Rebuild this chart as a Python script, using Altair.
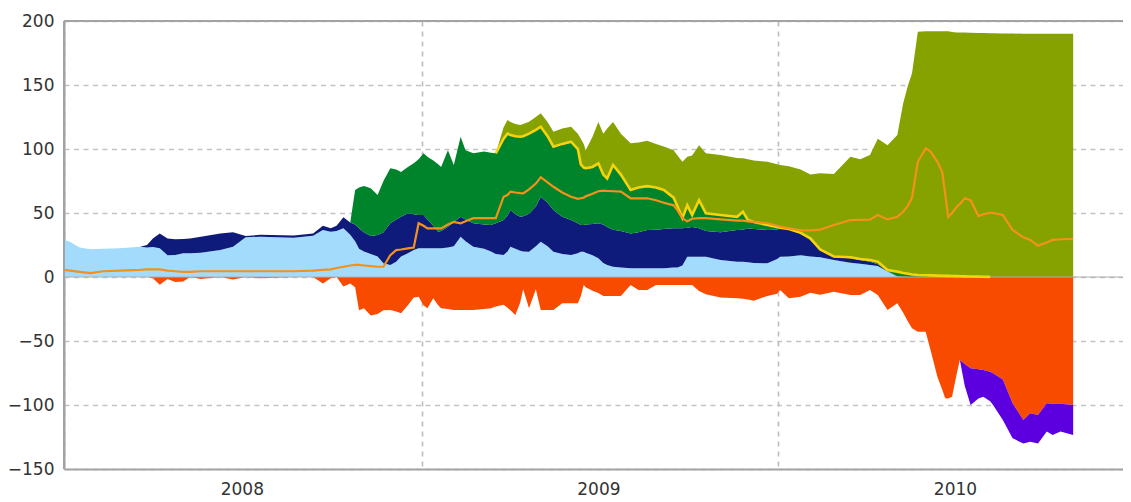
import altair as alt
import pandas as pd

# ---------------- data ----------------
dates = [
    "2008-01-01", "2008-01-07", "2008-01-17", "2008-01-28", "2008-02-10", "2008-02-27", "2008-03-19", "2008-03-26", "2008-04-01", "2008-04-08",
    "2008-04-16", "2008-04-24", "2008-05-02", "2008-05-09", "2008-05-20", "2008-06-09", "2008-06-22", "2008-07-05", "2008-07-20", "2008-08-23",
    "2008-09-12", "2008-09-22", "2008-09-30", "2008-10-06", "2008-10-13", "2008-10-20", "2008-10-25", "2008-10-29", "2008-11-03", "2008-11-10",
    "2008-11-17", "2008-11-23", "2008-11-30", "2008-12-06", "2008-12-11", "2008-12-18", "2008-12-24", "2008-12-29",
    "2009-01-03", "2009-01-07", "2009-01-13", "2009-01-18", "2009-01-21", "2009-01-28", "2009-02-03", "2009-02-10", "2009-02-15", "2009-02-23",
    "2009-03-06", "2009-03-13", "2009-03-18", "2009-03-26", "2009-03-30", "2009-04-02", "2009-04-07", "2009-04-12", "2009-04-15", "2009-04-21",
    "2009-04-28", "2009-05-03", "2009-05-10", "2009-05-16", "2009-05-25", "2009-06-03", "2009-06-10", "2009-06-13", "2009-06-16", "2009-06-18",
    "2009-06-25", "2009-07-01", "2009-07-06", "2009-07-10", "2009-07-16", "2009-07-24", "2009-08-03", "2009-08-11", "2009-08-20", "2009-08-29",
    "2009-09-06", "2009-09-16", "2009-09-20", "2009-09-25", "2009-09-30", "2009-10-05", "2009-10-12", "2009-10-19", "2009-11-03", "2009-11-20",
    "2009-11-26", "2009-12-01", "2009-12-07", "2009-12-21", "2009-12-31",
    "2010-01-03", "2010-01-12", "2010-01-24", "2010-02-03", "2010-02-13", "2010-02-27", "2010-03-16", "2010-03-26", "2010-04-05", "2010-04-13",
    "2010-04-23", "2010-05-03", "2010-05-09", "2010-05-14", "2010-05-18", "2010-05-24", "2010-06-01", "2010-06-06", "2010-06-13", "2010-06-18",
    "2010-06-21", "2010-06-24", "2010-06-28", "2010-07-03", "2010-07-06", "2010-07-11", "2010-07-17", "2010-07-25", "2010-07-30", "2010-08-06",
    "2010-08-09", "2010-08-19", "2010-08-29", "2010-09-09", "2010-09-16", "2010-09-24", "2010-10-03", "2010-10-09", "2010-10-17", "2010-10-30",
]

# upper edge of the light-blue band
light_blue_top = [
    28.9, 27.6, 23, 21.6, 22, 22.4, 23.7, 23, 23.5, 22.4,
    17, 17.2, 18.5, 18.5, 19, 21, 23.7, 31, 31.5, 30.7,
    32.3, 36.7, 35.4, 36, 38, 33, 28, 22, 20, 18,
    16, 10.7, 9.4, 12, 16, 18.5, 21, 22.4,
    22.4, 22.4, 22.4, 22.4, 22.4, 23, 24, 31.5, 28, 23.7,
    22, 20, 18, 17.2, 20, 23.7, 22, 20.5, 20, 19.8,
    24, 27.6, 24, 19.8, 18, 17.2, 18.5, 19.8, 19.8, 19,
    17, 14.6, 11, 9.4, 8, 7.5, 6.8, 6.8, 6.8, 6.8,
    6.8, 7.5, 7.5, 9, 15.9, 15.9, 15.9, 15.9, 13.3, 12,
    12, 11.5, 11, 10.7, 14,
    15.9, 16, 17, 16, 15.4, 13.3, 11.2, 10.3, 9.4, 8.5,
    4.2, 0.3, 0, 0, 0, 0, 0, 0, 0, 0,
    0, 0, 0, 0, 0, 0, 0, 0, 0, 0,
    0, 0, 0, 0, 0, 0, 0, 0, 0, 0,
]

# upper edge of the navy band (starts in late March 2008)
navy_top = light_blue_top[:7] + [
    25, 30, 34,
    30, 29.4, 29.7, 30, 31.5, 34, 35, 32, 33, 32.5,
    34, 40, 38, 40, 46.6, 42.5, 41, 38, 35, 32,
    32.8, 35, 42, 45, 47, 49.8, 49, 48.5,
    48.4, 45, 40, 35.4, 36, 39.3, 43, 47, 45, 42,
    41, 40.6, 42, 44.5, 48, 52.3, 49, 47, 47.5, 49.5,
    55, 62.7, 58, 52.3, 47, 44.5, 42, 40.6, 40.6, 41,
    41.5, 42, 41, 39, 37, 36, 34, 35, 36.7, 37,
    37.5, 38, 38, 38, 38.5, 39, 38, 36, 35, 36.7,
    37, 38, 37.5, 36.7, 37,
    38, 37, 34, 29, 21, 15.5, 14.6, 13.3, 12, 10,
    4.5, 0.5, 0.3, 0, 0, 0, 0, 0, 0, 0,
    0, 0, 0, 0, 0, 0, 0, 0, 0, 0,
    0, 0, 0, 0, 0, 0, 0, 0, 0, 0,
]

# upper edge of the dark-green band (starts late October 2008)
green_top = navy_top[:26] + [
    68, 70, 71, 69.3, 64, 75, 85, 84, 82, 86, 88.8, 92,
    96.6, 94, 91, 88, 86, 99, 87.5, 109.6, 99, 96.6,
    98, 97, 96.6, 108, 112, 111, 110, 109.6, 110, 112,
    115, 117.4, 110, 101.8, 104, 105.7, 100, 88, 85.5, 85,
    86, 88.8, 80, 77, 87.5, 80, 68, 70, 71, 70,
    68, 62, 55, 46, 56, 48.4, 60, 49.8, 48.4, 47,
    51, 44.5, 43, 40.6, 39,
    38.5, 37.5, 34.5, 30.2, 21.5, 16, 15.4, 14, 13.3, 12,
    5.5, 4.2, 3.2, 2.5, 2, 1.6, 1.4, 1.3, 1.1, 1,
    0.9, 0.9, 0.8, 0.7, 0.6, 0.5, 0.4, 0.3, 0.2, 0.1,
    0, 0, 0, 0, 0, 0, 0, 0, 0, 0,
]

# upper edge of the olive band (starts mid-March 2009)
olive_top = green_top[:51] + [
    117, 122.7, 121, 119.5, 118.8, 119.5, 121.3,
    125, 127.9, 121, 113.5, 116, 117.4, 112, 108, 104, 99,
    109.6, 121, 112, 116, 121, 112, 104.4, 105, 106.5, 104,
    102, 99, 95, 90, 94, 95, 103, 96.6, 95.3, 93,
    92.7, 92, 91, 90, 88,
    87.5, 86.5, 84, 80, 81, 80.5, 94, 92, 95.3, 108,
    103, 111, 135.7, 150, 159, 191.6, 192, 192, 192, 192,
    192, 192, 191.5, 191, 191, 191, 190.8, 190.7, 190.6, 190.5,
    190.4, 190.3, 190.2, 190, 190, 190, 190, 190, 190, 190,
]

# orange line
orange_line = [
    5.5, 5, 4, 3, 4.5, 5, 5.5, 6, 6, 6,
    5, 4.5, 4, 4, 4.5, 4.5, 4.5, 4.5, 4.5, 4.5,
    5, 5.5, 6, 7, 8, 9, 9.4, 9.4, 9, 8.5,
    8, 8, 17, 21, 21.5, 22.4, 23, 42,
    40, 38, 38, 38, 38, 41, 43, 42, 43.5, 46,
    46, 46, 46, 62.7, 64, 66.7, 66, 65.5, 65.4, 68.5,
    73, 78, 74, 70.5, 66, 62.7, 61, 61.5, 62, 63,
    65, 67, 67.4, 67.2, 67, 66.7, 61.5, 61.5, 61.5, 60,
    58, 56, 52, 46, 43.5, 45.5, 46, 46, 45, 44,
    44, 43.5, 43, 42, 40,
    39.3, 38, 36.5, 36.5, 37, 40.6, 44.5, 44.6, 44.8, 48.5,
    45, 47, 51, 56, 62, 90, 100.5, 98, 90, 82,
    65, 47, 50, 55, 57, 61.5, 60, 47.6, 49, 50.2,
    50, 48.4, 36.7, 31, 29, 24.5, 27, 29, 29.5, 29.7,
]

# lower edge of the red (negative) area
red_bottom = [
    0, 0, 0, 0, 0, 0, 0, 0, -1, -6,
    -1.5, -4, -3.5, 0, -1.5, 0, -2, 0, -1, 0,
    0, -5, -1, 0, -7.5, -5, -8, -26, -24.5, -30,
    -29, -26, -25.8, -27, -28.4, -22, -16, -15.4,
    -22, -24.5, -16.6, -22, -24.5, -25, -25.8, -25.8, -25.8, -25.8,
    -25, -24.5, -23, -21.7, -24, -26, -29.7, -20, -9.6, -24.5,
    -9.6, -25.8, -25.8, -25.8, -20.6, -20.6, -20.6, -15, -6.3, -8,
    -10.7, -12.5, -14.8, -14.8, -14.8, -14.8, -6.3, -10.2, -10.2, -6.3,
    -6.3, -6.3, -6.3, -6.3, -6.3, -6.3, -11, -13.5, -16, -16.6,
    -17, -17.5, -18.5, -14.8, -13,
    -10.2, -16.6, -15.4, -12.3, -13.9, -11.5, -14, -14, -10.2, -14,
    -25.8, -20.6, -28, -35, -40, -42.7, -42.7, -57, -77.9, -88,
    -94.8, -95, -93.5, -75, -64.8, -68, -71.3, -72, -72.7, -74,
    -75.2, -80, -98.7, -111.7, -106.5, -107.8, -98.7, -99, -99, -100,
]

# purple area below the red one (2010)
purple_dates = [
    "2010-07-06", "2010-07-11", "2010-07-17", "2010-07-25", "2010-07-30", "2010-08-06", "2010-08-09", "2010-08-19",
    "2010-08-29", "2010-09-09", "2010-09-16", "2010-09-24", "2010-10-03", "2010-10-09", "2010-10-17", "2010-10-30",
]
purple_bottom = [-64.8, -85, -100, -95, -93.5, -97, -100, -111.7, -126, -130, -128.7, -130, -120.8, -123.4, -120.8, -123.4]

yellow_start, yellow_end = "2009-03-18", "2010-08-06"
y_ticks = [-150, -100, -50, 0, 50, 100, 150, 200]

# ---------------- tables ----------------
df = pd.DataFrame({
    "date": dates,
    "light_blue": light_blue_top,
    "navy": navy_top,
    "green": green_top,
    "olive": olive_top,
    "orange": orange_line,
    "red": red_bottom,
})
df["zero"] = 0.0
yellow_df = df[(df["date"] >= yellow_start) & (df["date"] <= yellow_end)]
purple_df = pd.DataFrame({"date": purple_dates, "purple": purple_bottom}).merge(
    df[["date", "red"]], on="date")

# ---------------- styling ----------------
FONT = "DejaVu Sans"
C_LB, C_NAVY, C_GREEN, C_OLIVE = "#a2dbfc", "#0e1b7b", "#00842b", "#86a200"
C_RED, C_PURPLE, C_ORANGE, C_YELLOW = "#f94b00", "#5d00e0", "#f2921c", "#f7d30c"
AXIS_GREY = "#a3a3a3"

x_start = alt.DateTime(year=2008, month=1, date=1, utc=True)
x_scale = alt.Scale(type="utc", domain=[x_start, alt.DateTime(year=2010, month=12, date=20, utc=True)])
tick_dates = [alt.DateTime(year=y, month=m, date=1, utc=True) for y in (2008, 2009, 2010) for m in (1, 7)]
x_axis = alt.Axis(
    values=tick_dates,
    labelExpr="utcmonth(datum.value) == 6 ? utcFormat(datum.value, '%Y') : ''",
    grid=True, gridDash=[5, 5], gridColor="#bdbdbd", gridWidth=1.6,
    gridOpacity={"condition": {"test": "utcmonth(datum.value) == 0", "value": 1}, "value": 0},
    ticks=False, domainColor=AXIS_GREY, domainWidth=2, zindex=0,
    labelFont=FONT, labelFontSize=17, labelColor="#333333", labelPadding=12,
    labelFlush=False, labelOverlap=False, title=None,
)
y_scale = alt.Scale(domain=[-150, 200], nice=False, zero=False)
y_axis = alt.Axis(
    values=y_ticks, grid=True, gridDash=[5, 4.5], gridColor="#c2c2c2", gridWidth=1.6,
    ticks=False, domainColor=AXIS_GREY, domainWidth=2, zindex=0,
    labelFont=FONT, labelFontSize=17, labelColor="#333333", labelPadding=10,
    labelFlush=False, title=None,
)


def X():
    return alt.X("date:T", scale=x_scale, axis=x_axis, title=None)


def Y(field):
    return alt.Y(f"{field}:Q", scale=y_scale, axis=y_axis, title=None)


def band(data, color, top, bottom):
    return alt.Chart(data).mark_area(color=color, interpolate="linear", opacity=1).encode(
        x=X(), y=Y(top), y2=alt.Y2(f"{bottom}:Q"))


layers = [
    band(df, C_LB, "light_blue", "zero"),
    band(df, C_NAVY, "navy", "light_blue"),
    band(df, C_GREEN, "green", "navy"),
    band(df, C_OLIVE, "olive", "green"),
    band(df, C_RED, "red", "zero"),
    band(purple_df, C_PURPLE, "purple", "red"),
    alt.Chart().mark_rule(color="#b0b0b0", strokeWidth=1.2).encode(
        y=alt.Y(datum=0, scale=y_scale, axis=y_axis, title=None)),
    alt.Chart(yellow_df).mark_line(color=C_YELLOW, strokeWidth=2.6).encode(x=X(), y=Y("green")),
    alt.Chart(df).mark_line(color=C_ORANGE, strokeWidth=2.2).encode(x=X(), y=Y("orange")),
    # frame: top edge and left edge drawn above the areas
    alt.Chart().mark_rule(color=AXIS_GREY, strokeWidth=2).encode(
        y=alt.Y(datum=200, scale=y_scale, axis=y_axis, title=None)),
    alt.Chart().mark_rule(color=AXIS_GREY, strokeWidth=2).encode(
        x=alt.X(datum=x_start, type="temporal", scale=x_scale, axis=x_axis, title=None)),
]

chart = alt.layer(*layers).properties(
    width=1059, height=448,
    autosize=alt.AutoSizeParams(type="none"),
    padding={"left": 56, "top": 13, "right": 0, "bottom": 30},
    background="white",
).configure_view(stroke=None)

chart.save("out.html", embed_options={"renderer": "svg", "actions": False})
